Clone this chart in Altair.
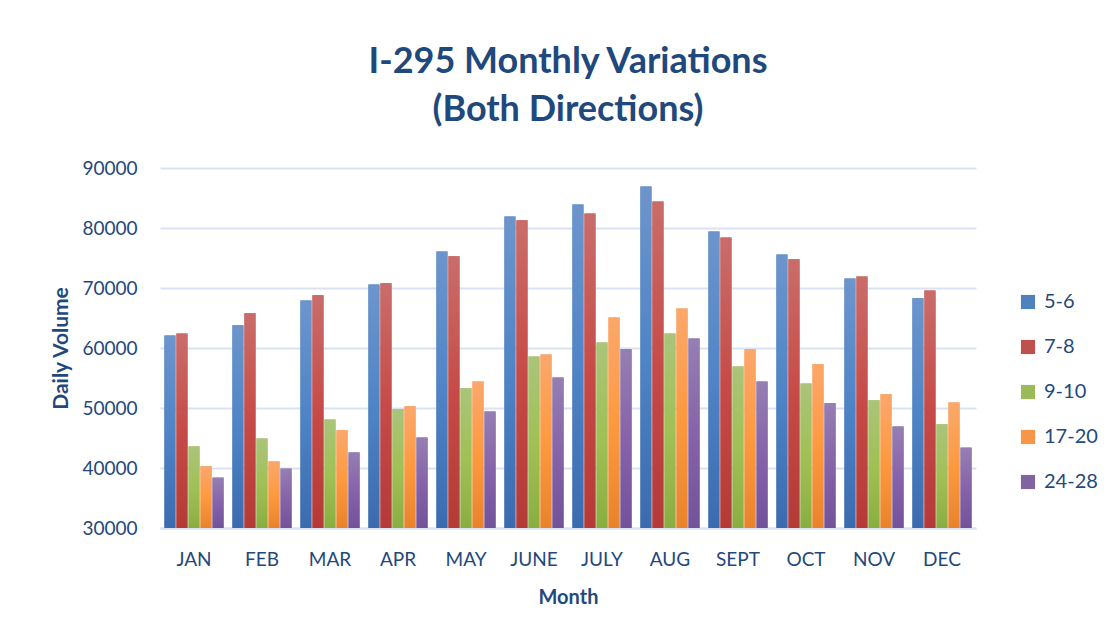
import altair as alt
import pandas as pd

months = ["JAN", "FEB", "MAR", "APR", "MAY", "JUNE", "JULY", "AUG", "SEPT", "OCT", "NOV", "DEC"]
series = ["5-6", "7-8", "9-10", "17-20", "24-28"]
v_5_6 = [62100, 63800, 67900, 70600, 76100, 81900, 83900, 86900, 79400, 75600, 71600, 68300]
v_7_8 = [62400, 65800, 68800, 70800, 75300, 81300, 82400, 84400, 78400, 74800, 71900, 69600]
v_9_10 = [43600, 44900, 48100, 49800, 53300, 58600, 60900, 62400, 56900, 54100, 51300, 47300]
v_17_20 = [40300, 41100, 46300, 50300, 54400, 58900, 65100, 66600, 59800, 57300, 52300, 50900]
v_24_28 = [38400, 39900, 42600, 45100, 49400, 55100, 59800, 61600, 54400, 50800, 46900, 43400]
y_ticks = [30000, 40000, 50000, 60000, 70000, 80000, 90000]

solid = ["#4F81BD", "#C0504D", "#9BBB59", "#F79646", "#8064A2"]
grad_top = ["#6D95CC", "#C96D6A", "#AAC47A", "#FBA76C", "#957FB3"]
grad_mid = ["#4F84C6", "#C64B48", "#A0C156", "#FD9A40", "#8763A8"]
grad_bot = ["#3A6BAE", "#B33A37", "#8AAD42", "#E8832B", "#72529A"]

values = [v_5_6, v_7_8, v_9_10, v_17_20, v_24_28]
rows = []
for s, vals in zip(series, values):
    for m, v in zip(months, vals):
        rows.append({"month": m, "series": s, "value": v})
df = pd.DataFrame(rows)

TEXT = "#1F497D"
FONT = "Lato"

x_enc = alt.X("month:N", sort=months, scale=alt.Scale(paddingInner=0.13, paddingOuter=0.065),
              axis=alt.Axis(title="Month", labelAngle=0, labelPadding=22, titlePadding=18,
                            titleFontSize=20))
xo_enc = alt.XOffset("series:N", sort=series, scale=alt.Scale(domain=series, paddingInner=0.08))
y_enc = alt.Y("value:Q", scale=alt.Scale(domain=[30000, 90000], zero=False, nice=False),
              axis=alt.Axis(title="Daily Volume", values=y_ticks, format="d", labelPadding=23,
                            titlePadding=10, titleFontSize=21))

base = alt.Chart(df)

solid_layer = base.mark_bar().encode(
    x=x_enc, xOffset=xo_enc, y=y_enc, y2=alt.datum(30000),
    color=alt.Color("series:N", sort=series,
                    scale=alt.Scale(domain=series, range=solid),
                    legend=alt.Legend(title=None, orient="none", legendX=858, legendY=124,
                                      symbolType="square", symbolSize=200, rowPadding=25,
                                      labelFontSize=20, labelColor=TEXT, labelFont=FONT,
                                      labelOffset=6, symbolStrokeWidth=0))
)

layers = [solid_layer]
for i, s in enumerate(series):
    g = alt.LinearGradient(
        gradient="linear", x1=0, x2=0, y1=0, y2=1,
        stops=[alt.GradientStop(color=grad_top[i], offset=0),
               alt.GradientStop(color=grad_mid[i], offset=0.5),
               alt.GradientStop(color=grad_bot[i], offset=1)])
    layers.append(
        base.transform_filter(alt.datum.series == s).mark_bar(fill=g).encode(
            x=x_enc, xOffset=xo_enc, y=y_enc, y2=alt.datum(30000)
        )
    )

chart = alt.layer(*layers).properties(
    width=816, height=360,
    title=alt.TitleParams(["I-295 Monthly Variations", "(Both Directions)"],
                          fontSize=36, font=FONT, fontWeight="bold", color=TEXT,
                          lineHeight=48, offset=30, anchor="middle"),
    autosize=alt.AutoSizeParams(type="none"),
    padding={"left": 152, "top": 160, "right": 122, "bottom": 101},
).configure_view(stroke=None).configure_axis(
    labelFont=FONT, titleFont=FONT, labelFontSize=19, titleFontSize=19,
    labelColor=TEXT, titleColor=TEXT, titleFontWeight="bold",
    gridColor="#D9E3F3", gridWidth=2, domainColor="#D9E3F3", domainWidth=2,
    ticks=False
).configure_axisX(grid=False).configure_axisY(domain=False)

chart.save("out.html", embed_options={"renderer": "svg", "actions": False})
